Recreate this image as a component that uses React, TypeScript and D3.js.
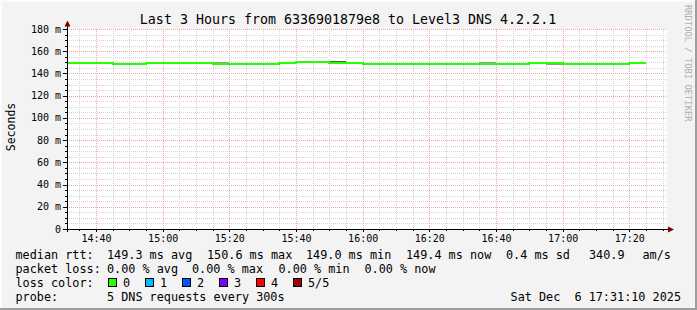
import React from "react";
import * as d3 from "d3";

const W = 697;
const H = 310;
const MONO = "'DejaVu Sans Mono', monospace";

const titleText = "Last 3 Hours from 6336901879e8 to Level3 DNS 4.2.2.1";
const yAxisTitle = "Seconds";
const watermark = "RRDTOOL / TOBI OETIKER";

const yTickValues = [0, 20, 40, 60, 80, 100, 120, 140, 160, 180];
const yTickLabels = ["0", "20 m", "40 m", "60 m", "80 m", "100 m", "120 m", "140 m", "160 m", "180 m"];
const xTickLabels = ["14:40", "15:00", "15:20", "15:40", "16:00", "16:20", "16:40", "17:00", "17:20"];

// 5-minute intervals (start time) and median RTT in ms
const intervalStarts = [
  "14:30", "14:35", "14:40", "14:45", "14:50", "14:55", "15:00", "15:05", "15:10", "15:15",
  "15:20", "15:25", "15:30", "15:35", "15:40", "15:45", "15:50", "15:55", "16:00", "16:05",
  "16:10", "16:15", "16:20", "16:25", "16:30", "16:35", "16:40", "16:45", "16:50", "16:55",
  "17:00", "17:05", "17:10", "17:15", "17:20",
];
const medianMs = [
  149.4, 149.4, 149.4, 148.9, 148.9, 149.4, 149.4, 149.4, 149.4, 148.9,
  148.9, 148.9, 148.9, 149.4, 150.6, 150.6, 149.4, 149.4, 148.9, 148.9,
  148.9, 148.9, 148.9, 148.9, 148.9, 148.9, 148.9, 148.9, 149.4, 149.4,
  148.9, 148.9, 148.9, 148.9, 149.4,
];

// visible smoke (ping spread) around the median
const smokeStarts = ["15:15", "15:50", "16:35", "16:55"];
const smokeLowMs = [148.9, 149.4, 148.9, 147.9];
const smokeHighMs = [150.6, 151.5, 150.6, 149.4];
const smokeColors = ["#9a9a9a", "#555555", "#9a9a9a", "#9a96a2"];

const lossLabels = ["0", "1", "2", "3", "4", "5/5"];
const lossColors = ["#26ff00", "#00b8ff", "#0059ff", "#7e00ff", "#ff0000", "#a00000"];

const rttStats = ["149.3 ms avg", "150.6 ms max", "149.0 ms min", "149.4 ms now", "0.4 ms sd", "340.9", "am/s"];
const lossStats = ["0.00 % avg", "0.00 % max", "0.00 % min", "0.00 % now"];
const probeText = "5 DNS requests every 300s";
const dateText = "Sat Dec  6 17:31:10 2025";

const day = (h: number, m: number, s = 0) => new Date(2025, 11, 6, h, m, s);
const parseHM = (hm: string) => {
  const [h, m] = hm.split(":").map(Number);
  return day(h, m);
};

export default function App() {
  const left = 67;
  const right = 667;
  const top = 29;
  const bottom = 229;

  const x = d3.scaleTime().domain([day(14, 31, 18), day(17, 31, 18)]).range([left, right]);
  const y = d3.scaleLinear().domain([0, 180]).range([bottom, top]);

  const minorX = d3.timeMinute.every(5)!.range(day(14, 31, 18), day(17, 31, 19)).filter((d) => d.getMinutes() % 20 !== 0);
  const majorX = xTickLabels.map(parseHM);
  const minorY = d3.range(5, 181, 5).filter((v) => v % 20 !== 0);
  const majorY = yTickValues.filter((v) => v > 0);

  const pts: [Date, number][] = intervalStarts.map((s, i) => [parseHM(s), medianMs[i]]);
  const lastEnd = d3.timeMinute.offset(parseHM(intervalStarts[intervalStarts.length - 1]), 5);
  pts.push([lastEnd, medianMs[medianMs.length - 1]]);
  const line = d3
    .line<[Date, number]>()
    .x((d) => x(d[0]))
    .y((d) => y(d[1]))
    .curve(d3.curveStepAfter);

  const legendX = 15.5;
  const colX = 107;
  const rttX = [107, 207, 306, 406, 506, 589, 642.5];
  const lossX = [107, 192, 278.5, 364.5];
  const boxX = [108, 145, 182, 219, 256, 293];
  const rows = [258.5, 272.5, 286.5, 300.5];
  const lf = 11.8;

  return (
    <svg
      width={W}
      height={H}
      style={{ position: "absolute", left: 0, top: 0, display: "block" }}
      fontFamily={MONO}
    >
      <defs>
        <clipPath id="plotclip">
          <rect x={left} y={top - 5} width={right - left} height={bottom - top + 5} />
        </clipPath>
      </defs>
      <rect x={0} y={0} width={W} height={H} fill="#f3f3f3" />
      <rect x={0} y={0} width={W} height={2} fill="#fcfcfc" />
      <rect x={0} y={0} width={2} height={H} fill="#fcfcfc" />
      <rect x={W - 2} y={0} width={2} height={H} fill="#9e9e9e" />
      <rect x={0} y={H - 2} width={W} height={2} fill="#9e9e9e" />

      <text x={348} y={23.5} textAnchor="middle" fontSize={13.3} fill="#000">
        {titleText}
      </text>
      <text transform={`translate(685,5) rotate(90)`} fontSize={8.8} fill="#b0b0b0">
        {watermark}
      </text>

      <rect x={left} y={top} width={right - left} height={bottom - top} fill="#ffffff" />

      {/* minor grid */}
      <g stroke="#d6d6d6" strokeWidth={1} strokeDasharray="1,1" shapeRendering="crispEdges">
        {minorX.map((d, i) => (
          <line key={"mx" + i} x1={Math.round(x(d)) + 0.5} x2={Math.round(x(d)) + 0.5} y1={top} y2={bottom} />
        ))}
        {minorY.map((v, i) => (
          <line key={"my" + i} x1={left} x2={right} y1={Math.round(y(v)) + 0.5} y2={Math.round(y(v)) + 0.5} />
        ))}
      </g>
      {/* major grid */}
      <g stroke="#f0a6a6" strokeWidth={1} strokeDasharray="1,1" shapeRendering="crispEdges">
        {majorX.map((d, i) => (
          <line key={"Mx" + i} x1={Math.round(x(d)) + 0.5} x2={Math.round(x(d)) + 0.5} y1={top} y2={bottom} />
        ))}
        {majorY.map((v, i) => (
          <line key={"My" + i} x1={left} x2={right} y1={Math.round(y(v)) + 0.5} y2={Math.round(y(v)) + 0.5} />
        ))}
      </g>

      {/* smoke + median line */}
      <g clipPath="url(#plotclip)" shapeRendering="crispEdges">
        {smokeStarts.map((s, i) => {
          const t0 = parseHM(s);
          const t1 = d3.timeMinute.offset(t0, 5);
          return (
            <rect
              key={"s" + i}
              x={x(t0)}
              width={x(t1) - x(t0)}
              y={y(smokeHighMs[i])}
              height={y(smokeLowMs[i]) - y(smokeHighMs[i])}
              fill={smokeColors[i]}
            />
          );
        })}
        <path d={line(pts) || ""} fill="none" stroke={lossColors[0]} strokeWidth={2} />
      </g>

      {/* axes */}
      <g stroke="#000" strokeWidth={1} shapeRendering="crispEdges">
        <line x1={left + 0.5} x2={left + 0.5} y1={26} y2={bottom + 3} />
        <line x1={63} x2={668} y1={bottom + 0.5} y2={bottom + 0.5} />
        {majorY.map((v, i) => (
          <line key={"ty" + i} x1={63} x2={left} y1={Math.round(y(v)) + 0.5} y2={Math.round(y(v)) + 0.5} />
        ))}
        {minorY.map((v, i) => (
          <line key={"tmy" + i} x1={65} x2={left} y1={Math.round(y(v)) + 0.5} y2={Math.round(y(v)) + 0.5} />
        ))}
        {majorX.map((d, i) => (
          <line key={"tx" + i} x1={Math.round(x(d)) + 0.5} x2={Math.round(x(d)) + 0.5} y1={bottom} y2={bottom + 3} />
        ))}
        {minorX.map((d, i) => (
          <line key={"tmx" + i} x1={Math.round(x(d)) + 0.5} x2={Math.round(x(d)) + 0.5} y1={bottom} y2={bottom + 2} />
        ))}
      </g>
      <path d="M64.5,26.5 L70.5,26.5 L67.5,20.5 Z" fill="#7f0000" />
      <path d="M668,226.5 L668,232.5 L674,229.5 Z" fill="#7f0000" />

      {/* y tick labels */}
      <g fontSize={10} fill="#000" textAnchor="end">
        {yTickValues.map((v, i) => (
          <text key={"yl" + i} x={61} y={y(v) + 3.5}>
            {yTickLabels[i]}
          </text>
        ))}
      </g>
      {/* x tick labels */}
      <g fontSize={10} fill="#000" textAnchor="middle">
        {majorX.map((d, i) => (
          <text key={"xl" + i} x={x(d) + 0.5} y={241.5}>
            {xTickLabels[i]}
          </text>
        ))}
      </g>

      <text transform="translate(14.5,127) rotate(-90)" textAnchor="middle" fontSize={11.5} fill="#000">
        {yAxisTitle}
      </text>

      {/* legend */}
      <g fontSize={lf} fill="#000">
        <text x={legendX} y={rows[0]}>median rtt:</text>
        {rttStats.map((s, i) => (
          <text key={"r" + i} x={rttX[i]} y={rows[0]}>
            {s}
          </text>
        ))}
        <text x={legendX} y={rows[1]}>packet loss:</text>
        {lossStats.map((s, i) => (
          <text key={"l" + i} x={lossX[i]} y={rows[1]}>
            {s}
          </text>
        ))}
        <text x={legendX} y={rows[2]}>loss color:</text>
        {lossLabels.map((s, i) => (
          <g key={"c" + i}>
            <rect x={boxX[i] + 0.5} y={278.5} width={8} height={8} fill={lossColors[i]} stroke="#000" strokeWidth={1} />
            <text x={boxX[i] + 15} y={rows[2]}>
              {s}
            </text>
          </g>
        ))}
        <text x={legendX} y={rows[3]}>probe:</text>
        <text x={colX} y={rows[3]}>{probeText}</text>
        <text x={681} y={rows[3]} textAnchor="end" style={{ whiteSpace: "pre" }}>
          {dateText}
        </text>
      </g>
    </svg>
  );
}
